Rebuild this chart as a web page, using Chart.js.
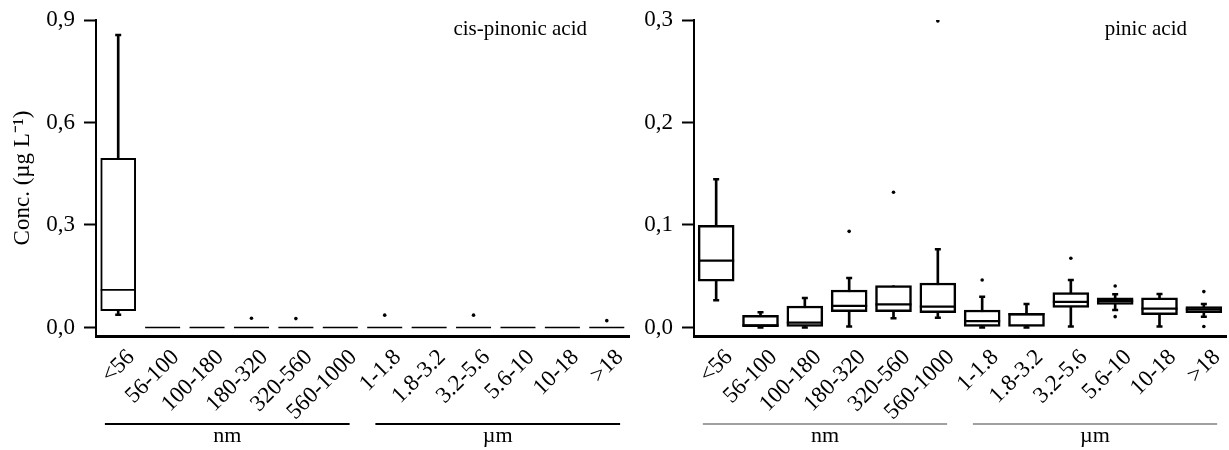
<!DOCTYPE html>
<html>
<head>
<meta charset="utf-8">
<script src="https://cdn.jsdelivr.net/npm/chart.js@4/dist/chart.umd.min.js"></script>
<style>
  html, body { margin: 0; padding: 0; background: #fff; }
  #wrap { position: relative; width: 1229px; height: 450px; }
  .pane { position: absolute; top: 0; height: 450px; }
  #left  { left: 0;     width: 640px; }
  #right { left: 640px; width: 589px; }
</style>
</head>
<body>
<div id="wrap">
  <div class="pane" id="left"><canvas id="cisC"></canvas></div>
  <div class="pane" id="right"><canvas id="pinC"></canvas></div>
</div>
<script>
/* ── size bins (x categories) ───────────────────────────────────────────── */
const BINS = ['<56','56-100','100-180','180-320','320-560','560-1000',
              '1-1.8','1.8-3.2','3.2-5.6','5.6-10','10-18','>18'];

/* ── cis-pinonic acid, µg/L ─────────────────────────────────────────────── */
const cisMin = [0.037, 0, 0, 0, 0, 0, 0, 0, 0, 0, 0, 0];
const cisQ1  = [0.049, 0, 0, 0, 0, 0, 0, 0, 0, 0, 0, 0];
const cisMed = [0.110, 0, 0, 0, 0, 0, 0, 0, 0, 0, 0, 0];
const cisQ3  = [0.495, 0, 0, 0, 0, 0, 0, 0, 0, 0, 0, 0];
const cisMax = [0.856, 0, 0, 0, 0, 0, 0, 0, 0, 0, 0, 0];
const cisOut = [[3, 0.027], [4, 0.026], [6, 0.036], [8, 0.036], [11, 0.020]];
const cisTicks = [0, 0.3, 0.6, 0.9];

/* ── pinic acid, µg/L ───────────────────────────────────────────────────── */
const pinMin = [0.0265, 0.000, 0.000, 0.001, 0.009, 0.0096, 0.000, 0.000, 0.001, 0.0171, 0.001, 0.0106];
const pinQ1  = [0.0451, 0.0008, 0.001, 0.0155, 0.0155, 0.0145, 0.001, 0.001, 0.0197, 0.0226, 0.0125, 0.0145];
const pinMed = [0.0652, 0.002, 0.0047, 0.021, 0.0226, 0.0203, 0.0063, 0.0129, 0.0249, 0.0259, 0.0184, 0.0177];
const pinQ3  = [0.0997, 0.0119, 0.021, 0.0366, 0.0408, 0.0434, 0.0171, 0.0138, 0.034, 0.029, 0.029, 0.0203];
const pinMax = [0.1446, 0.0148, 0.0288, 0.0483, 0.0408, 0.0763, 0.030, 0.0229, 0.0463, 0.0324, 0.0327, 0.0229];
const pinOut = [[3, 0.0938], [4, 0.132], [5, 0.299], [6, 0.0463], [8, 0.0675],
                [9, 0.0405], [9, 0.0106], [11, 0.035], [11, 0.001]];
const pinTicks = [0, 0.1, 0.2, 0.3];

/* unit groups under the x axis (a/b: line overhang in category steps) */
const GROUPS = [
  { text: 'nm',      from: 0, to: 5,  a: 0.30, b: 0.21 },
  { text: '\u00b5m', from: 6, to: 11, a: 0.21, b: 0.30 }
];

const FONT = 'Liberation Serif';

/* ── boxText — panel title + nm/µm group bars ───────────────────────────── */
const boxText = {
  id: 'boxText',
  afterDraw(chart, args, o) {
    const ctx = chart.ctx, x = chart.scales.x;
    const step = x.getPixelForValue(1) - x.getPixelForValue(0);
    ctx.save();
    ctx.fillStyle = '#000';
    ctx.font = `${o.titleSize}px ${FONT}`;
    ctx.textAlign = 'right';
    ctx.textBaseline = 'alphabetic';
    ctx.fillText(o.title, o.titleX, 35);

    ctx.strokeStyle = o.lineColor;
    ctx.lineWidth = o.lineWidth;
    ctx.font = `22px ${FONT}`;
    ctx.textAlign = 'center';
    ctx.textBaseline = 'middle';
    GROUPS.forEach(g => {
      const a = x.getPixelForValue(g.from) - g.a * step;
      const b = x.getPixelForValue(g.to) + g.b * step;
      ctx.beginPath();
      ctx.moveTo(a, 424);
      ctx.lineTo(b, 424);
      ctx.stroke();
      ctx.fillText(g.text, (a + b) / 2, 436);
    });
    ctx.restore();
  }
};

/* ── buildBox — one box-and-whisker panel ───────────────────────────────── */
function buildBox(id, d) {
  const pick = (arr, ref, cmp) => arr.map((v, i) => cmp(v, ref[i]) ? v : null);
  const outs = d.out.map(p => ({ x: BINS[p[0]], y: p[1] }));

  new Chart(document.getElementById(id), {
    data: {
      labels: BINS,
      datasets: [
        { // whisker stems
          type: 'bar', order: 5, grouped: false,
          data: d.min.map((v, i) => [v, d.max[i]]),
          backgroundColor: '#000', barThickness: 2, borderWidth: 0
        },
        { // boxes
          type: 'bar', order: 4, grouped: false,
          data: d.q1.map((v, i) => [v, d.q3[i]]),
          backgroundColor: '#fff', borderColor: '#000',
          borderWidth: d.boxLine, borderSkipped: false, barThickness: d.boxW
        },
        { // upper caps
          type: 'line', order: 3, showLine: false,
          data: pick(d.max, d.q3, (a, b) => a > b),
          pointStyle: 'line', pointRadius: 3, borderColor: '#000', borderWidth: 2.5
        },
        { // lower caps
          type: 'line', order: 3, showLine: false,
          data: pick(d.min, d.q1, (a, b) => a < b),
          pointStyle: 'line', pointRadius: 3, borderColor: '#000', borderWidth: 2.5
        },
        { // medians
          type: 'line', order: 2, showLine: false,
          data: d.med,
          pointStyle: 'line', pointRadius: d.boxW / 2, borderColor: '#000', borderWidth: d.medLine
        },
        { // outliers
          type: 'line', order: 1, showLine: false,
          data: outs,
          pointStyle: 'circle', pointRadius: 1.8, backgroundColor: '#000', borderWidth: 0
        }
      ]
    },
    options: {
      responsive: true,
      maintainAspectRatio: false,
      animation: false,
      events: [],
      /* autoPadding off: the wide median "points" would otherwise shrink the plot */
      layout: { autoPadding: false, padding: { top: 20, right: d.padRight, bottom: 0, left: 0 } },
      plugins: {
        legend: { display: false },
        tooltip: { enabled: false },
        boxText: { title: d.title, titleX: d.titleX, titleSize: 21,
                   lineColor: d.groupColor, lineWidth: d.groupWidth }
      },
      scales: {
        x: {
          type: 'category',
          offset: true,
          afterFit: s => { s.height = 114; s.paddingLeft = 0; s.paddingRight = 0; },
          grid: { display: false },
          border: { display: true, color: '#000', width: 3 },
          ticks: {
            autoSkip: false, minRotation: 45, maxRotation: 45,
            padding: 0, labelOffset: 13, color: '#000',
            font: { family: FONT, size: 23 }
          }
        },
        y: {
          min: d.yMin, max: d.yMax,
          afterFit: s => { s.width = d.axisW; s.paddingTop = 0; s.paddingBottom = 0; },
          afterBuildTicks: s => { s.ticks = d.ticks.map(v => ({ value: v })); },
          grid: { display: true, drawOnChartArea: false, drawTicks: true,
                  tickLength: 12, tickWidth: 2, color: '#000' },
          border: { display: true, color: '#000', width: 2 },
          ticks: {
            padding: 9, color: '#000',
            font: { family: FONT, size: 23 },
            callback: v => v.toFixed(1).replace('.', ',')
          },
          title: {
            display: !!d.yTitle, text: d.yTitle, color: '#000',
            font: { family: FONT, size: 23 }, padding: { top: 9, bottom: 0 }
          }
        }
      }
    },
    plugins: [boxText]
  });
}

buildBox('cisC', {
  min: cisMin, q1: cisQ1, med: cisMed, q3: cisQ3, max: cisMax, out: cisOut,
  ticks: cisTicks, yMin: -0.025, yMax: 0.9, axisW: 96, padRight: 11,
  boxW: 35, boxLine: 2, medLine: 1.6,
  title: 'cis-pinonic acid', titleX: 587,
  yTitle: 'Conc. (\u00b5g L\u207b\u00b9)',
  groupColor: '#000', groupWidth: 2
});

buildBox('pinC', {
  min: pinMin, q1: pinQ1, med: pinMed, q3: pinQ3, max: pinMax, out: pinOut,
  ticks: pinTicks, yMin: -0.0083, yMax: 0.3, axisW: 54, padRight: 3,
  boxW: 36, boxLine: 2.5, medLine: 2.2,
  title: 'pinic acid', titleX: 547,
  yTitle: '',
  groupColor: '#444', groupWidth: 1.2
});
</script>
</body>
</html>
